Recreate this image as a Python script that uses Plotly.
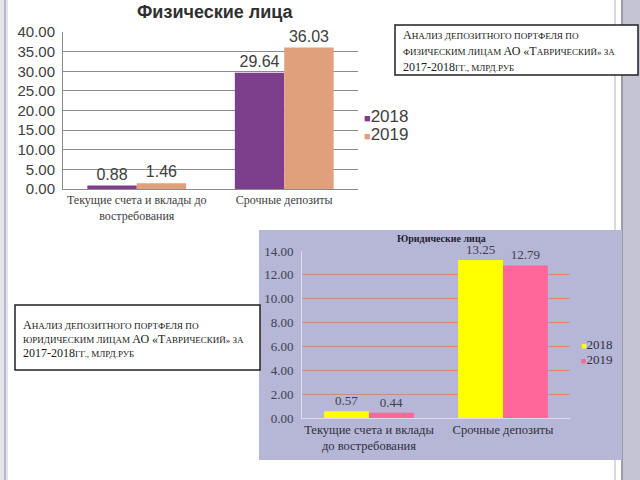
import plotly.graph_objects as go

# ---- data ----
cats_phys = ["Текущие счета и вклады до<br>востребования", "Срочные депозиты"]
cats_jur = ["Текущие счета и вклады<br>до востребования", "Срочные депозиты"]
years = ["2018", "2019"]
phys_2018 = [0.88, 29.64]
phys_2019 = [1.46, 36.03]
jur_2018 = [0.57, 13.25]
jur_2019 = [0.44, 12.79]
title_phys = "Физические лица"
title_jur = "Юридические лица"

W, H = 640, 480
def px(x): return x / W
def py(y): return 1 - y / H

SANS = "Liberation Sans"
SERIF = "Liberation Serif"

phys_colors = ["#7D3E8C", "#E0A07B"]
jur_colors = ["#FFFF00", "#FF6699"]

fig = go.Figure()
for yr, vals, col in zip(years, [phys_2018, phys_2019], phys_colors):
    fig.add_trace(go.Bar(x=cats_phys, y=vals, name=yr, marker=dict(color=col, line=dict(width=0)),
                         text=[f"{v:.2f}" for v in vals], textposition="outside", cliponaxis=False,
                         textfont=dict(family=SANS, size=16, color="#404040"),
                         xaxis="x", yaxis="y", showlegend=False))
for yr, vals, col in zip(years, [jur_2018, jur_2019], jur_colors):
    fig.add_trace(go.Bar(x=cats_jur, y=vals, name=yr, marker=dict(color=col, line=dict(width=0)),
                         text=[f"{v:.2f}" for v in vals], textposition="outside", cliponaxis=False,
                         textfont=dict(family=SERIF, size=13, color="#404050"),
                         xaxis="x2", yaxis="y2", showlegend=False))

shapes = [
    # slide left border
    dict(type="rect", xref="paper", yref="paper", x0=0, x1=px(8), y0=0, y1=1,
         fillcolor="#E4E4EC", line=dict(width=0), layer="below"),
    dict(type="line", xref="paper", yref="paper", x0=px(5), x1=px(5), y0=0, y1=1,
         line=dict(color="#B8B8CC", width=2), layer="below"),
    # slide right border
    dict(type="rect", xref="paper", yref="paper", x0=px(622), x1=1, y0=0, y1=1,
         fillcolor="#C4C4D4", line=dict(width=0), layer="below"),
    dict(type="line", xref="paper", yref="paper", x0=px(615), x1=px(615), y0=0, y1=1,
         line=dict(color="#D8D8E0", width=2), layer="below"),
    dict(type="line", xref="paper", yref="paper", x0=px(622), x1=px(622), y0=0, y1=1,
         line=dict(color="#9C9CAC", width=2), layer="below"),
    # bottom chart background
    dict(type="rect", xref="paper", yref="paper", x0=px(259), x1=px(622), y0=py(460), y1=py(230),
         fillcolor="#B6B6D6", line=dict(width=0), layer="below"),
    # text boxes
    dict(type="rect", xref="paper", yref="paper", x0=px(395), x1=px(638), y0=py(75), y1=py(25),
         fillcolor="white", line=dict(color="#202020", width=1.5)),
    dict(type="rect", xref="paper", yref="paper", x0=px(15), x1=px(260), y0=py(370), y1=py(305),
         fillcolor="white", line=dict(color="#202020", width=1.5)),
]

def sc(big, small, bs=12, ss=9):
    return f'<span style="font-size:{bs}px">{big}</span><span style="font-size:{ss}px">{small}</span>'

box1_lines = [
    sc("А", "НАЛИЗ ДЕПОЗИТНОГО ПОРТФЕЛЯ ПО", ss=9.2),
    sc("", "ФИЗИЧЕСКИМ ЛИЦАМ ") + sc("АО «Т", "АВРИЧЕСКИЙ» ЗА"),
    sc("2017-2018", "ГГ., МЛРД.РУБ"),
]
box2_lines = [
    sc("А", "НАЛИЗ ДЕПОЗИТНОГО ПОРТФЕЛЯ ПО", ss=9.2),
    sc("", "ЮРИДИЧЕСКИМ ЛИЦАМ ") + sc("АО «Т", "АВРИЧЕСКИЙ» ЗА"),
    sc("2017-2018", "ГГ., МЛРД.РУБ"),
]
annotations = []
for i, t in enumerate(box1_lines):
    annotations.append(dict(x=px(401), y=py([35, 51, 67][i]), xref="paper", yref="paper",
                            text=t, showarrow=False, xanchor="left", yanchor="middle",
                            font=dict(family=SERIF, size=12, color="#202020")))
for i, t in enumerate(box2_lines):
    annotations.append(dict(x=px(21), y=py([325, 339, 353][i]), xref="paper", yref="paper",
                            text=t, showarrow=False, xanchor="left", yanchor="middle",
                            font=dict(family=SERIF, size=12, color="#202020")))
annotations.append(dict(x=px(215), y=py(12), xref="paper", yref="paper", text=f"<b>{title_phys}</b>",
                        showarrow=False, xanchor="center", yanchor="middle",
                        font=dict(family=SANS, size=18, color="#303030")))
annotations.append(dict(x=px(441), y=py(238), xref="paper", yref="paper", text=f"<b>{title_jur}</b>",
                        showarrow=False, xanchor="center", yanchor="middle",
                        font=dict(family=SERIF, size=10, color="#202030")))

# legends (drawn as text with coloured square glyphs)
for i, (yr, col) in enumerate(zip(years, phys_colors)):
    annotations.append(dict(x=px(362), y=py([116, 134][i]), xref="paper", yref="paper",
                            text=f'<span style="color:{col};font-size:11px">■</span>{yr}',
                            showarrow=False, xanchor="left", yanchor="middle",
                            font=dict(family=SANS, size=17, color="#404040")))
for i, (yr, col) in enumerate(zip(years, jur_colors)):
    annotations.append(dict(x=px(579), y=py([344, 359][i]), xref="paper", yref="paper",
                            text=f'<span style="color:{col};font-size:9px">■</span>{yr}',
                            showarrow=False, xanchor="left", yanchor="middle",
                            font=dict(family=SERIF, size=13, color="#303040")))

fig.update_layout(
    width=W, height=H, margin=dict(l=0, r=0, t=0, b=0, autoexpand=False),
    paper_bgcolor="white", plot_bgcolor="rgba(0,0,0,0)",
    barmode="group", bargap=0.33, bargroupgap=0,
    showlegend=False,
    xaxis=dict(domain=[px(63), px(358)], anchor="y", showgrid=False, showline=True,
               linecolor="#8C8C8C", linewidth=1, ticks="", tickangle=0, automargin=False,
               tickfont=dict(family=SERIF, size=12, color="#404040")),
    yaxis=dict(domain=[py(189), py(32)], anchor="x", range=[0, 40], dtick=5, tickformat=".2f",
               showgrid=True, gridcolor="#8C8C8C", gridwidth=1, showline=True, linecolor="#8C8C8C",
               zeroline=False, ticks="", ticklabelstandoff=4, automargin=False,
               tickfont=dict(family=SANS, size=15, color="#404040")),
    xaxis2=dict(domain=[px(302), px(570)], anchor="y2", showgrid=False, showline=True,
                linecolor="#DCDCEC", linewidth=1, ticks="", tickangle=0, automargin=False,
                tickfont=dict(family=SERIF, size=12.5, color="#303040")),
    yaxis2=dict(domain=[py(418), py(251)], anchor="x2", range=[0, 14], dtick=2, tickformat=".2f",
                showgrid=True, gridcolor="#C48C8C", gridwidth=1, showline=True, linecolor="#DCDCEC",
                zeroline=False, ticks="", ticklabelstandoff=5, automargin=False,
                tickfont=dict(family=SERIF, size=13, color="#404050")),
    shapes=shapes, annotations=annotations,
)
fig.write_html("out.html")
